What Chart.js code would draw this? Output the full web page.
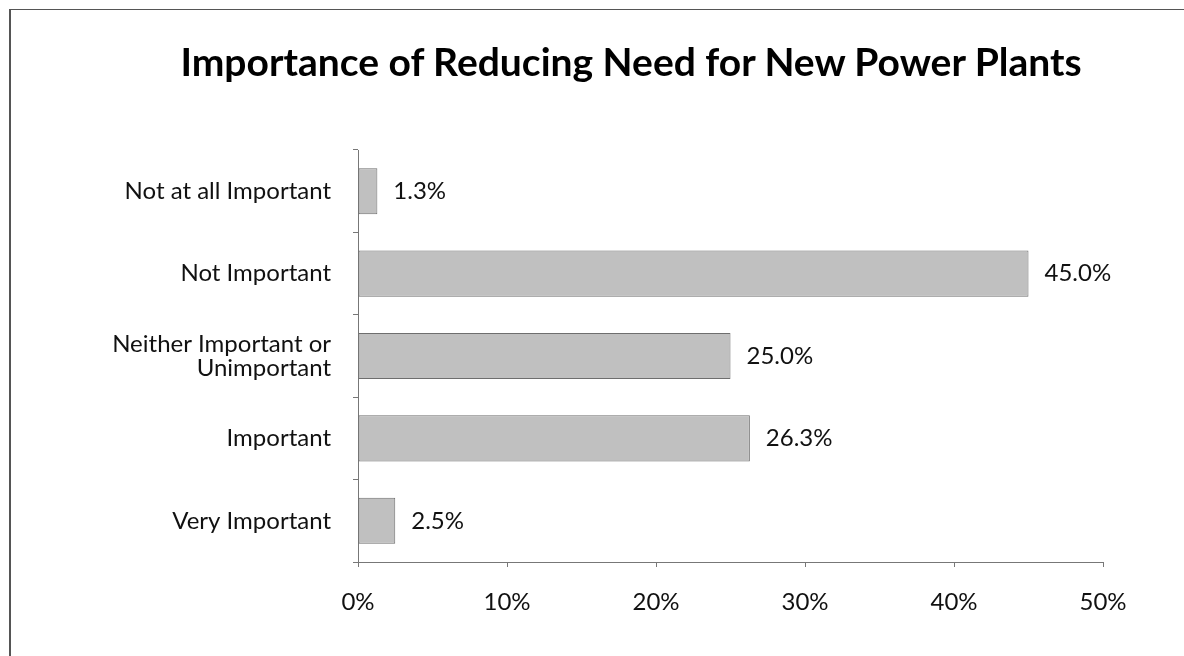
<!DOCTYPE html>
<html>
<head>
<meta charset="utf-8">
<script src="https://cdn.jsdelivr.net/npm/chart.js@4/dist/chart.umd.min.js"></script>
<style>
    html, body { margin: 0; padding: 0; background: #fff; }
    #wrap { position: relative; width: 1184px; height: 656px; overflow: hidden; }
    #frame {
        position: absolute; left: 9px; top: 9px; width: 1300px; height: 800px;
        border-top: 1px solid #555; border-left: 2px solid #555;
    }
    #title {
        position: absolute; left: 0; top: 38px; width: 1262px;
        text-align: center; line-height: 1;
        font: bold 39px Lato, 'Open Sans', sans-serif; color: #000;
    }
    canvas { position: absolute; left: 0; top: 0; }
</style>
</head>
<body>
<div id="wrap">
    <div id="frame"></div>
    <canvas id="chart" width="1184" height="656"></canvas>
    <div id="title">Importance of Reducing Need for New Power Plants</div>
</div>
<script>
// chart data
var categories = [
    "Not at all Important",
    "Not Important",
    ["Neither Important or", "Unimportant"],
    "Important",
    "Very Important"
];
var percentValues = [1.3, 45.0, 25.0, 26.3, 2.5];
var xTicks = [0, 10, 20, 30, 40, 50];

var fontFamily = "Lato, 'Open Sans', sans-serif";

// draws the value next to each bar
var valueLabels = {
    id: "valueLabels",
    afterDatasetsDraw: function(chart) {
        var ctx = chart.ctx;
        var meta = chart.getDatasetMeta(0);
        ctx.save();
        ctx.font = "24px " + fontFamily;
        ctx.fillStyle = "#111";
        ctx.textAlign = "left";
        ctx.textBaseline = "middle";
        meta.data.forEach(function(bar, i) {
            ctx.fillText(percentValues[i].toFixed(1) + "%", bar.x + 16, bar.y);
        });
        ctx.restore();
    }
};

var ctx = document.getElementById("chart").getContext("2d");
new Chart(ctx, {
    type: "bar",
    data: {
        labels: categories,
        datasets: [{
            data: percentValues,
            backgroundColor: "#c0c0c0",
            borderColor: "#6e6e6e",
            borderWidth: 1,
            borderSkipped: false,
            categoryPercentage: 1,
            barPercentage: 0.56
        }]
    },
    options: {
        indexAxis: "y",
        responsive: false,
        animation: false,
        layout: { padding: { left: 0, right: 81, top: 150, bottom: 0 } },
        plugins: {
            legend: { display: false },
            tooltip: { enabled: false },
            title: { display: false }
        },
        scales: {
            x: {
                min: 0,
                max: 50,
                afterBuildTicks: function(scale) {
                    scale.ticks = xTicks.map(function(v) { return { value: v }; });
                },
                afterFit: function(scale) { scale.height = 94; },
                grid: { drawOnChartArea: false, drawTicks: true, tickLength: 5, color: "#777" },
                border: { color: "#777", width: 1 },
                ticks: {
                    padding: 21,
                    color: "#111",
                    font: { family: fontFamily, size: 24, lineHeight: 1.2 },
                    callback: function(v) { return v + "%"; }
                }
            },
            y: {
                afterFit: function(scale) { scale.width = 358; },
                grid: { drawOnChartArea: false, drawTicks: true, tickLength: 5, color: "#777", offset: true },
                border: { color: "#777", width: 1 },
                ticks: {
                    padding: 22,
                    color: "#111",
                    font: { family: fontFamily, size: 24, lineHeight: 1.0 }
                }
            }
        }
    },
    plugins: [valueLabels]
});
</script>
</body>
</html>
